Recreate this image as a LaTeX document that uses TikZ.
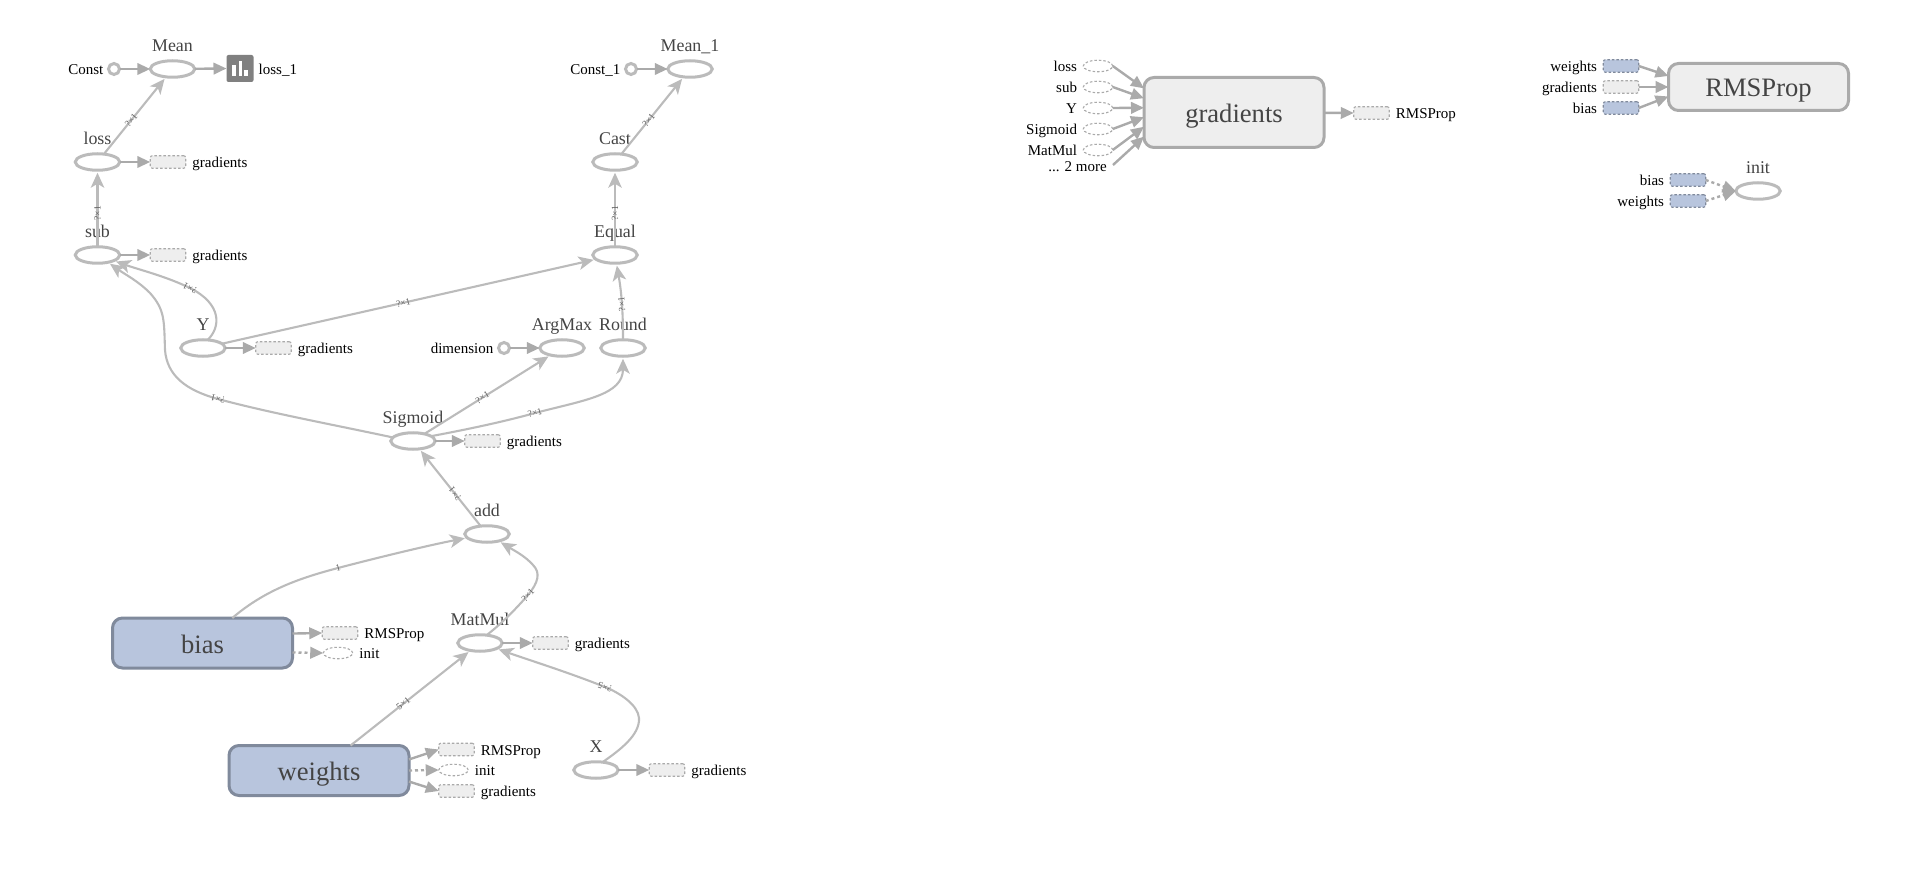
\documentclass[tikz,border=0pt]{standalone}
\usepackage{fontspec}
\setmainfont{Liberation Serif}
\usetikzlibrary{positioning,arrows.meta,shapes.geometric}
\definecolor{opgray}{HTML}{BBBBBB}
\definecolor{attgray}{HTML}{AAAAAA}
\definecolor{varblue}{HTML}{B8C5DD}
\definecolor{varedge}{HTML}{808A9C}
\definecolor{boxgray}{HTML}{EEEEEE}
\definecolor{txtgray}{HTML}{444444}

\begin{document}
\begin{tikzpicture}[
      x=1pt,y=-1pt,
      opnode/.style ={draw=opgray,line width=3pt,fill=white,ellipse,inner sep=0pt,outer sep=0pt,minimum width=44.5pt,minimum height=16.5pt},
      constnode/.style={draw=opgray,line width=3pt,fill=white,circle,inner sep=0pt,outer sep=0pt,minimum size=11pt},
      oplbl/.style ={font=\fontsize{17.9}{18}\selectfont,text=txtgray,inner sep=0pt,text depth=0pt,label distance=8.75pt},
      bigbox/.style={line width=3pt,rounded corners=10pt,inner sep=0pt,outer sep=0pt,minimum width=180pt,font=\fontsize{26.6}{27}\selectfont,text=txtgray,text height=20pt,text depth=0pt},
      varbox/.style={bigbox,draw=varedge,fill=varblue,minimum height=50pt},
      grpbox/.style={bigbox,draw=attgray,fill=boxgray},
      annot/.style ={font=\fontsize{15}{15}\selectfont,inner sep=0pt,text height=14.4pt,text depth=3pt},
      sumbox/.style={draw=attgray,line width=1.1pt,dashed,dash pattern=on 2.5pt off 2pt,fill=boxgray,rounded corners=2pt,inner sep=0pt,outer sep=0pt,minimum width=35.5pt,minimum height=12.5pt},
      initbox/.style={draw=attgray,line width=1.1pt,dash pattern=on 2.5pt off 2pt,fill=white,ellipse,inner sep=0pt,outer sep=0pt,minimum width=29.5pt,minimum height=11.5pt},
      bluebox/.style={sumbox,draw=varedge,fill=varblue},
      edge/.style  ={draw=opgray,line width=2.1pt,shorten >=2.5pt,-{Stealth[length=15pt,width=13.5pt,inset=4pt]}},
      attach/.style={draw=attgray,line width=2.4pt,-{Triangle[length=13pt,width=11.5pt]}},
      attachref/.style={attach,dash pattern=on 3pt off 3pt},
      edgelbl/.style={font=\fontsize{9.5}{10}\selectfont,text=txtgray!85,sloped,allow upside down,inner sep=0pt,pos=.44}]
      \useasboundingbox (0,0) rectangle (1908,890);
      % Helper macro
      \newcommand{\attachout}[6][attach]{%
        \node[#5] (#3) at (#4) {};
        \node[annot,right=6.5pt of #3] (#3t) {#6};
        \draw[#1] (#2) -- (#3.west);
      }
      % Operations
      \node[opnode,label={[oplbl]90:Mean}] (Mean) at (172.5,69) {};
      \node[opnode,label={[oplbl]90:Mean\_1}] (Mean1) at (690,69) {};
      \node[opnode,label={[oplbl]90:loss}] (loss) at (97.5,162) {};
      \node[opnode,label={[oplbl]90:Cast}] (Cast) at (615,162) {};
      \node[opnode,label={[oplbl]90:sub}] (sub) at (97.5,255) {};
      \node[opnode,label={[oplbl]90:Equal}] (Equal) at (615,255) {};
      \node[opnode,label={[oplbl]90:Y}] (Y) at (203,348) {};
      \node[opnode,label={[oplbl]90:ArgMax}] (ArgMax) at (562,348) {};
      \node[opnode,label={[oplbl]90:Round}] (Round) at (623,348) {};
      \node[opnode,label={[oplbl]90:Sigmoid}] (Sigmoid) at (413,441) {};
      \node[opnode,label={[oplbl]90:add}] (add) at (487,534) {};
      \node[opnode,label={[oplbl]90:MatMul}] (MatMul) at (480,643) {};
      \node[opnode,label={[oplbl]90:X}] (X) at (596,770) {};
      \node[varbox] (bias) at (202.5,643) {bias};
      \node[varbox] (weights) at (319,770.5) {weights};
      % Constants
      \foreach \nm/\cx/\cy/\txt in {Const/114/69/Const,ConstA/631/69/Const\_1,dimension/504/348/dimension}{
        \node[constnode] (\nm) at (\cx,\cy) {};
        \node[annot,left=5pt of \nm] (\nm t) {\txt};
      }
      \draw[attach] (Const) -- (Mean.west);
      \draw[attach] (ConstA) -- (Mean1.west);
      \draw[attach] (dimension) -- (ArgMax.west);
      % Summary
      \node[fill=gray,rounded corners=2pt,inner sep=0pt,outer sep=0pt,minimum size=27pt] (summary) at (240,68.5) {};
      \node[annot,right=5pt of summary] (summaryt) {loss\_1};
      \draw[attach] (Mean) -- (summary.west);
      \foreach \bl/\br/\bt in {232.3/235.7/65,238.7/241.7/60.7,244.3/247.7/70}{
        \fill[white] (\bl,\bt) rectangle (\br,76);
      }
      % Data edges
      \draw[edge] (loss) -- node[edgelbl]{?×1} (Mean);
      \draw[edge] (sub) -- node[edgelbl]{?×1} (loss);
      \draw[edge] (Cast) -- node[edgelbl]{?×1} (Mean1);
      \draw[edge] (Equal) -- node[edgelbl]{?×1} (Cast);
      \draw[edge] (Y) -- node[edgelbl,pos=.485]{?×1} (Equal);
      \draw[edge] (Sigmoid) -- node[edgelbl,pos=.46]{?×1} (ArgMax);
      \draw[edge] (add) -- node[edgelbl,pos=.42]{?×1} (Sigmoid);
      \draw[edge] (weights) -- node[edgelbl]{5×1} (MatMul);
      \draw[edge] (Round.north) .. controls (623,315) and (622,295) .. node[edgelbl,pos=.5]{?×1} (Equal);
      \draw[edge] (Y.60) .. controls (221,327) and (222,304) .. (190,288) node[edgelbl,pos=1]{?×1} .. controls (165,276) and (140,270) .. (sub);
      \draw[edge] (Sigmoid.170) .. controls (330,424) and (270,413) .. (218,399) node[edgelbl,pos=1]{?×1} .. controls (185,390) and (167,375) .. (165,350) .. controls (164,320) and (165,310) .. (150,293) .. controls (138,281) and (126,275) .. (sub);
      \draw[edge] (Sigmoid.15) .. controls (475,428) and (510,420) .. (535,413) node[edgelbl,pos=1]{?×1} .. controls (585,400) and (623,395) .. (Round);
      \draw[edge] (bias.40) .. controls (265,590) and (300,578) .. (338,568) node[edgelbl,pos=1]{1} .. controls (380,557) and (430,545) .. (add);
      \draw[edge] (MatMul.50) .. controls (500,625) and (515,610) .. (528,595) node[edgelbl,pos=1]{?×1} .. controls (538,583) and (541,573) .. (533,565) .. controls (525,556) and (515,551) .. (add);
      \draw[edge] (X.50) .. controls (620,750) and (640,735) .. (639,718) .. controls (638,705) and (620,693) .. (605,687) node[edgelbl,pos=1]{?×5} .. controls (570,673) and (535,662) .. (MatMul);
      % Attachments
      \attachout{loss}{lossG}{168,162}{sumbox}{gradients}
      \attachout{sub}{subG}{168,255}{sumbox}{gradients}
      \attachout{Y}{YG}{273.5,348}{sumbox}{gradients}
      \attachout{Sigmoid}{SigmoidG}{482.5,441}{sumbox}{gradients}
      \attachout{MatMul}{MatMulG}{550.5,643}{sumbox}{gradients}
      \attachout{X}{XG}{667,770}{sumbox}{gradients}
      \attachout{bias.6.3}{biasR}{340,633}{sumbox}{RMSProp}
      \attachout[attachref]{bias.-6.3}{biasI}{338,653}{initbox}{init}
      \attachout{weights.7.2}{weightsR}{456.5,749.5}{sumbox}{RMSProp}
      \attachout[attachref]{weights.east}{weightsI}{453.5,770}{initbox}{init}
      \attachout{weights.-7.2}{weightsG}{456.5,791}{sumbox}{gradients}
      % gradients group
      \node[grpbox,minimum height=70pt] (gradients) at (1234,112.5) {gradients};
      \foreach \nm/\yy/\ang/\txt in {gloss/66/165/loss,gsub/87/171.6/sub,gY/108/177/Y,gSig/129/183.5/Sigmoid,gMat/150/189/MatMul}{
        \node[initbox] (\nm) at (1098,\yy) {};
        \node[annot,left=6pt of \nm] (\nm t) {\txt};
        \draw[attach] (\nm.east) -- (gradients.\ang);
      }
      \coordinate (gmore) at (1113,165);
      \node[annot,anchor=east] (gmoret) at (1107,166) {... 2 more};
      \draw[attach] (gmore) -- (gradients.195);
      \attachout{gradients}{gradR}{1371.5,113}{sumbox}{RMSProp}
      % RMSProp group
      \node[grpbox,minimum height=47pt] (RMSProp) at (1758.5,87) {RMSProp};
      \foreach \nm/\yy/\ang/\sty/\txt in {rw/66/173.7/bluebox/weights,rg/87/180/sumbox/gradients,rb/108/186.3/bluebox/bias}{
        \node[\sty] (\nm) at (1621,\yy) {};
        \node[annot,left=6pt of \nm] (\nm t) {\txt};
        \draw[attach] (\nm.east) -- (RMSProp.\ang);
      }
      % init group
      \node[opnode,label={[oplbl]90:init}] (init) at (1758,191) {};
      \foreach \nm/\yy/\txt in {ib/180/bias,iw/201/weights}{
        \node[bluebox] (\nm) at (1688,\yy) {};
        \node[annot,left=6pt of \nm] (\nm t) {\txt};
        \draw[attachref] (\nm.east) -- (init.west);
      }
  \end{tikzpicture}
\end{document}
